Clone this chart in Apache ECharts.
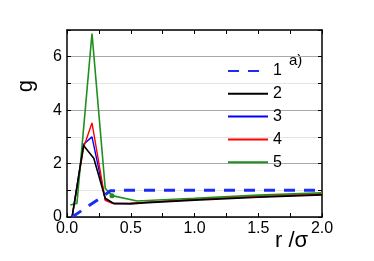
<!DOCTYPE html>
<html>
<head>
<meta charset="utf-8">
<script src="https://cdn.jsdelivr.net/npm/echarts@6/dist/echarts.min.js"></script>
<style>
html,body{margin:0;padding:0;background:#fff;}
#chart{width:374px;height:261px;}
</style>
</head>
<body>
<div id="chart"></div>
<script>
// Data
var seriesNames = ['1', '2', '3', '4', '5'];
var r1 = [0.04, 0.29, 0.34, 0.45, 2.0];
var g1 = [0.0, 0.80, 0.98, 1.0, 1.0];
var r2 = [0.04, 0.13, 0.21, 0.30, 0.37, 0.50, 0.60, 1.0, 1.5, 2.0];
var g2 = [0.0, 2.68, 2.20, 0.70, 0.50, 0.49, 0.53, 0.63, 0.74, 0.83];
var r3 = [0.04, 0.13, 0.196, 0.30, 0.36, 0.50, 1.0, 1.5, 2.0];
var g3 = [0.0, 2.72, 3.00, 0.65, 0.51, 0.51, 0.66, 0.76, 0.85];
var r4 = [0.04, 0.13, 0.196, 0.30, 0.36, 0.50, 1.0, 1.5, 2.0];
var g4 = [0.0, 2.60, 3.52, 0.62, 0.50, 0.52, 0.66, 0.78, 0.87];
var r5 = [0.026, 0.078, 0.196, 0.30, 0.353, 0.55, 1.0, 1.5, 2.0];
var g5 = [0.45, 0.51, 6.87, 1.07, 0.80, 0.60, 0.70, 0.82, 0.91];
var markIndex5 = 4; // the single dot drawn on curve 5
var yTickLabels = [0, 2, 4, 6];

function zip(xs, ys) { return xs.map(function (x, i) { return [x, ys[i]]; }); }

var d5 = zip(r5, g5).map(function (p, i) {
  return i === markIndex5 ? { value: p, symbol: 'circle', symbolSize: 5 } : { value: p };
});

var chart = echarts.init(document.getElementById('chart'), null, { renderer: 'canvas' });
var FONT = 'Liberation Sans, Arial, sans-serif';
var axisBase = {
  axisLine: { show: true, onZero: false, lineStyle: { color: '#000', width: 1.5 } },
  axisTick: { show: true, inside: true, length: 4, lineStyle: { color: '#000', width: 1 } }
};

chart.setOption({
  animation: false,
  backgroundColor: '#fff',
  grid: { left: 67, right: 52, top: 30, bottom: 44, show: false },
  legend: {
    orient: 'vertical', left: 227, top: 63, padding: 0,
    itemWidth: 40, itemHeight: 14, itemGap: 6.8,
    data: seriesNames,
    itemStyle: { opacity: 0 },
    textStyle: { fontFamily: FONT, fontSize: 16, color: '#000' }
  },
  xAxis: [
    Object.assign({}, axisBase, {
      type: 'value', min: 0, max: 2, interval: 0.5, position: 'bottom',
      minorTick: { show: true, splitNumber: 2, length: 4, lineStyle: { color: '#000', width: 1 } },
      splitLine: { show: false },
      axisLabel: { fontFamily: FONT, fontSize: 16, color: '#000', margin: 4,
        formatter: function (v) { return v.toFixed(1); } }
    }),
    Object.assign({}, axisBase, {
      type: 'value', min: 0, max: 2, interval: 0.5, position: 'top',
      minorTick: { show: true, splitNumber: 2, length: 4, lineStyle: { color: '#000', width: 1 } },
      splitLine: { show: false }, axisLabel: { show: false }
    })
  ],
  yAxis: [
    Object.assign({}, axisBase, {
      type: 'value', min: 0, max: 7, interval: 1, position: 'left',
      splitLine: { show: true, lineStyle: { color: ['#aaa', '#e4e4e4'], width: 1 } },
      axisLabel: { fontFamily: FONT, fontSize: 16, color: '#000', margin: 5,
        formatter: function (v) { return yTickLabels.indexOf(v) >= 0 ? String(v) : ''; } }
    }),
    Object.assign({}, axisBase, {
      type: 'value', min: 0, max: 7, interval: 1, position: 'right',
      splitLine: { show: false }, axisLabel: { show: false }
    })
  ],
  graphic: [
    { type: 'text', left: 15, top: 80, rotation: Math.PI / 2,
      style: { text: 'g', fontFamily: FONT, fontSize: 22, fill: '#000' } },
    { type: 'text', left: 275, top: 230,
      style: { text: 'r /σ', fontFamily: FONT, fontSize: 22, fill: '#000' } },
    { type: 'text', left: 289, top: 53,
      style: { text: 'a)', fontFamily: FONT, fontSize: 15, fill: '#000' } }
  ],
  series: [
    { name: seriesNames[0], type: 'line', symbol: 'none', data: zip(r1, g1), z: 5,
      lineStyle: { color: '#1a2cf5', width: 3, type: [11, 9] }, itemStyle: { color: '#1a2cf5' } },
    { name: seriesNames[1], type: 'line', symbol: 'none', data: zip(r2, g2), z: 4,
      lineStyle: { color: '#000', width: 1.6 }, itemStyle: { color: '#000' } },
    { name: seriesNames[2], type: 'line', symbol: 'none', data: zip(r3, g3), z: 2,
      lineStyle: { color: '#0000ff', width: 1.4 }, itemStyle: { color: '#0000ff' } },
    { name: seriesNames[3], type: 'line', symbol: 'none', data: zip(r4, g4), z: 3,
      lineStyle: { color: '#ff0000', width: 1.4 }, itemStyle: { color: '#ff0000' } },
    { name: seriesNames[4], type: 'line', symbol: 'none', data: d5, z: 3,
      lineStyle: { color: '#1f8f1f', width: 1.6 }, itemStyle: { color: '#1f8f1f' } }
  ]
});
</script>
</body>
</html>
